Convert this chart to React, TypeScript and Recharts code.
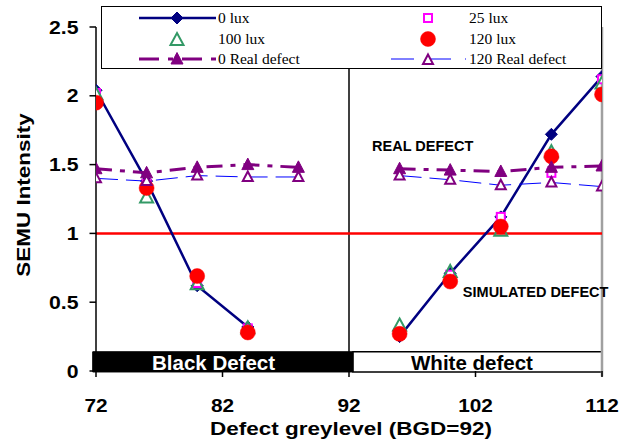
import React from 'react';
import {
  LineChart,
  Line,
  XAxis,
  YAxis,
  ReferenceLine,
  ReferenceArea,
  ReferenceDot,
  Legend,
} from 'recharts';

// ---- data ----
const greyLevels = [72, 76, 80, 84, 88, 92, 96, 100, 104, 108, 112];
const lux0 = [2.04, 1.38, 0.62, 0.32, null, null, 0.25, 0.71, 1.12, 1.72, 2.14];
const lux25 = [2.02, 1.36, 0.64, 0.31, null, null, 0.27, 0.7, 1.12, 1.44, 2.12];
const lux100 = [2.01, 1.26, 0.63, 0.31, null, null, 0.33, 0.72, 1.02, 1.59, 2.09];
const lux120 = [1.95, 1.33, 0.69, 0.28, null, null, 0.27, 0.65, 1.05, 1.56, 2.01];
const real0 = [1.47, 1.44, 1.48, 1.5, 1.48, null, 1.47, 1.46, 1.45, 1.48, 1.49];
const real120 = [1.4, 1.38, 1.42, 1.41, 1.41, null, 1.42, 1.39, 1.35, 1.37, 1.34];

const xTicks = [72, 82, 92, 102, 112];
const yTicks = [0, 0.5, 1, 1.5, 2, 2.5];
const threshold = 1;
const bgd = 92;

const legendItems = ['0 lux', '25 lux', '100 lux', '120 lux', '0 Real defect', '120 Real defect'];

const data = greyLevels.map((x, i) => ({
  x,
  lux0: lux0[i],
  lux25: lux25[i],
  lux100: lux100[i],
  lux120: lux120[i],
  real0: real0[i],
  real120: real120[i],
}));

const SANS = '"Liberation Sans", Arial, sans-serif';
const SERIF = '"Liberation Serif", "Times New Roman", serif';

const NAVY = '#000080';
const MAGENTA = '#FF00FF';
const GREEN = '#339966';
const RED = '#FF0000';
const PURPLE = '#800080';
const BLUE = '#0000FF';

// ---- marker shapes ----
const diamond = (cx: number, cy: number, key?: any) => (
  <polygon key={key} points={`${cx},${cy - 6} ${cx + 6},${cy} ${cx},${cy + 6} ${cx - 6},${cy}`} fill={NAVY} stroke={NAVY} strokeWidth={1} />
);
const square = (cx: number, cy: number, key?: any) => (
  <rect key={key} x={cx - 4} y={cy - 4} width={8} height={8} fill="#fff" stroke={MAGENTA} strokeWidth={2} />
);
const openTriGreen = (cx: number, cy: number, key?: any) => (
  <polygon key={key} points={`${cx},${cy - 7} ${cx + 6.5},${cy + 5} ${cx - 6.5},${cy + 5}`} fill="none" stroke={GREEN} strokeWidth={2} />
);
const circle = (cx: number, cy: number, key?: any) => (
  <circle key={key} cx={cx} cy={cy} r={7.5} fill={RED} stroke={RED} strokeWidth={0.5} />
);
const filledTri = (cx: number, cy: number, key?: any) => (
  <polygon key={key} points={`${cx},${cy - 6.5} ${cx + 6},${cy + 5} ${cx - 6},${cy + 5}`} fill={PURPLE} stroke={PURPLE} strokeWidth={1} />
);
const openTriPurple = (cx: number, cy: number, key?: any) => (
  <polygon key={key} points={`${cx},${cy - 5.5} ${cx + 5},${cy + 4} ${cx - 5},${cy + 4}`} fill="#fff" stroke={PURPLE} strokeWidth={2} />
);

const makeDot = (shape: (cx: number, cy: number, key?: any) => React.ReactElement) => (props: any) => {
  const { cx, cy, index, value } = props;
  if (cx == null || cy == null || value == null || Number.isNaN(cy)) return <g key={`e${index}`} />;
  return shape(cx, cy, `d${index}`);
};

// ---- ticks ----
const YTick = (props: any) => {
  const { x, y, payload } = props;
  return (
    <text
      transform={`translate(${x},${y}) scale(1.14,1)`}
      textAnchor="end"
      dy="0.355em"
      fontFamily={SANS}
      fontWeight="bold"
      fontSize={18.6}
      fill="#000"
    >
      {String(payload.value)}
    </text>
  );
};

const XTick = (props: any) => {
  const { x, payload } = props;
  return (
    <text
      transform={`translate(${x},412) scale(1.12,1)`}
      textAnchor="middle"
      fontFamily={SANS}
      fontWeight="bold"
      fontSize={18.6}
      fill="#000"
    >
      {String(payload.value)}
    </text>
  );
};

// ---- legend ----
const LegendBox = () => {
  const rowY = [11, 32, 52];
  const c1 = 75;
  const c2 = 326;
  const t1 = 116;
  const t2 = 367;
  const txt = (x: number, y: number, s: string) => (
    <text x={x} y={y + 5} fontFamily={SERIF} fontSize={15.5} fill="#000">
      {s}
    </text>
  );
  return (
    <div style={{ width: 501, height: 63, background: '#fff', border: '1px solid #000', boxSizing: 'border-box' }}>
      <svg width={499} height={61} style={{ display: 'block' }}>
        <line x1={37} x2={114} y1={rowY[0]} y2={rowY[0]} stroke={NAVY} strokeWidth={2.5} />
        {diamond(c1, rowY[0])}
        {txt(t1, rowY[0], legendItems[0])}
        {square(c2, rowY[0])}
        {txt(t2, rowY[0], legendItems[1])}
        {openTriGreen(c1, rowY[1] + 1)}
        {txt(t1, rowY[1], legendItems[2])}
        {circle(c2, rowY[1])}
        {txt(t2, rowY[1], legendItems[3])}
        <line x1={37} x2={114} y1={rowY[2]} y2={rowY[2]} stroke={PURPLE} strokeWidth={3} strokeDasharray="20 9 5 9" />
        {filledTri(c1, rowY[2])}
        {txt(t1, rowY[2], legendItems[4])}
        <line x1={289} x2={364} y1={rowY[2]} y2={rowY[2]} stroke={BLUE} strokeWidth={1} strokeDasharray="23 14" />
        {openTriPurple(c2, rowY[2] + 1)}
        {txt(t2, rowY[2], legendItems[5])}
      </svg>
    </div>
  );
};

const textLabel = (value: string, opts: { anchor: 'start' | 'middle'; size: number; color: string; sx?: number }) => (props: any) => {
  const vb = props.viewBox || {};
  const cx = (vb.x ?? 0) + (vb.width ?? 0) / 2;
  const cy = (vb.y ?? 0) + (vb.height ?? 0) / 2;
  return (
    <text
      transform={`translate(${cx},${cy}) scale(${opts.sx ?? 1},1)`}
      textAnchor={opts.anchor}
      dy="0.355em"
      fontFamily={SANS}
      fontWeight="bold"
      fontSize={opts.size}
      fill={opts.color}
    >
      {value}
    </text>
  );
};

export default function App() {
  return (
    <div style={{ position: 'absolute', left: 0, top: 0, width: 633, height: 446, background: '#fff' }}>
      <LineChart width={633} height={446} data={data} margin={{ top: 27, right: 31, bottom: 0, left: 6 }}>
        <XAxis
          dataKey="x"
          type="number"
          domain={[72, 112]}
          ticks={xTicks}
          allowDataOverflow
          axisLine={false}
          tickLine={{ stroke: '#000', strokeWidth: 1.5 }}
          tickSize={6}
          tickMargin={0}
          tick={<XTick />}
          height={75}
          label={{
            content: () => (
              <text
                transform="translate(351,435) scale(1.21,1)"
                textAnchor="middle"
                fontFamily={SANS}
                fontWeight="bold"
                fontSize={18.6}
                fill="#000"
              >
                Defect greylevel (BGD=92)
              </text>
            ),
          }}
        />
        <YAxis
          type="number"
          domain={[0, 2.5]}
          ticks={yTicks}
          width={90}
          axisLine={{ stroke: '#000', strokeWidth: 1.5 }}
          tickLine={{ stroke: '#000', strokeWidth: 1.5 }}
          tickSize={6.5}
          tickMargin={11}
          tick={<YTick />}
          label={{
            content: () => (
              <text
                transform="translate(23.5,195) rotate(-90) scale(1.21,1)"
                textAnchor="middle"
                dy="0.355em"
                fontFamily={SANS}
                fontWeight="bold"
                fontSize={18.6}
                fill="#000"
              >
                SEMU Intensity
              </text>
            ),
          }}
        />
        <Legend
          layout="vertical"
          align="center"
          verticalAlign="middle"
          content={() => <LegendBox />}
          wrapperStyle={{ left: 101, top: 6, width: 501, height: 63 }}
        />
        <ReferenceLine x={bgd} stroke="#000" strokeWidth={1.5} ifOverflow="visible" />
        <ReferenceLine
          segment={[{ x: 112, y: 2.5 }, { x: 112, y: -0.04 }]}
          stroke="#a0a0a0"
          strokeWidth={2.5}
          ifOverflow="visible"
        />
        <ReferenceLine y={threshold} stroke={RED} strokeWidth={2.5} />
        <Line dataKey="lux0" stroke={NAVY} strokeWidth={2.5} dot={makeDot(diamond)} activeDot={false} isAnimationActive={false} connectNulls={false} />
        <Line dataKey="lux25" stroke="none" dot={makeDot(square)} activeDot={false} isAnimationActive={false} />
        <Line dataKey="lux100" stroke="none" dot={makeDot(openTriGreen)} activeDot={false} isAnimationActive={false} />
        <Line dataKey="lux120" stroke="none" dot={makeDot(circle)} activeDot={false} isAnimationActive={false} />
        <Line dataKey="real0" stroke={PURPLE} strokeWidth={3} strokeDasharray="16 8 5 8" dot={makeDot(filledTri)} activeDot={false} isAnimationActive={false} connectNulls={false} />
        <Line dataKey="real120" stroke={BLUE} strokeWidth={1} strokeDasharray="22 8" dot={makeDot(openTriPurple)} activeDot={false} isAnimationActive={false} connectNulls={false} />
        <ReferenceArea x1={71.74} x2={92.32} y1={-0.007} y2={0.14} fill="#000" fillOpacity={1} stroke="#000" ifOverflow="visible" />
        <ReferenceArea x1={92.32} x2={111.98} y1={-0.007} y2={0.14} fill="#fff" fillOpacity={1} stroke="#000" strokeWidth={1.5} ifOverflow="visible" />
        <ReferenceDot x={81.29} y={0.062} r={0} stroke="none" ifOverflow="visible" label={{ content: textLabel('Black Defect', { anchor: 'middle', size: 20.5, color: '#fff' }) }} />
        <ReferenceDot x={101.72} y={0.062} r={0} stroke="none" ifOverflow="visible" label={{ content: textLabel('White defect', { anchor: 'middle', size: 20.5, color: '#000' }) }} />
        <ReferenceDot x={93.82} y={1.635} r={0} stroke="none" ifOverflow="visible" label={{ content: textLabel('REAL DEFECT', { anchor: 'start', size: 14.5, color: '#000' }) }} />
        <ReferenceDot x={101.0} y={0.574} r={0} stroke="none" ifOverflow="visible" label={{ content: textLabel('SIMULATED DEFECT', { anchor: 'start', size: 14.5, color: '#000' }) }} />
      </LineChart>
    </div>
  );
}
